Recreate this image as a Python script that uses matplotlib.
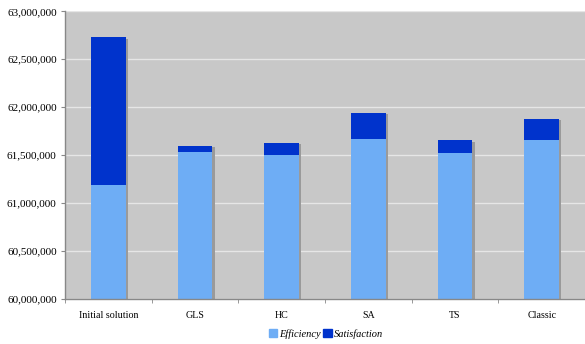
import numpy as np
import matplotlib
matplotlib.use('Agg')
import matplotlib.pyplot as plt
from matplotlib.ticker import FuncFormatter, FixedLocator

plt.rcParams['font.family'] = ['Liberation Serif', 'DejaVu Serif']

methods = ['Initial solution', 'GLS', 'HC', 'SA', 'TS', 'Classic']
efficiency = [61187500, 61534000, 61506000, 61673000, 61521000, 61663000]
satisfaction = [1541500, 66000, 122000, 267000, 135000, 215000]

light = '#6eadf5'
dark = '#0033cc'

fig = plt.figure(figsize=(5.85, 3.44), dpi=100)
ax = fig.add_axes([65 / 585, 45 / 344, 520 / 585, 287.7 / 344])
ax.set_facecolor('#c8c8c8')

x = np.arange(len(methods))
width = 0.4
base = 60000000
totals = np.array(efficiency) + np.array(satisfaction)

# drop shadow to the right of each stacked bar
ax.bar(x + 0.025, totals - base - 15000, width, bottom=base, color='#9a9a9a', zorder=1)
ax.bar(x, np.array(efficiency) - base, width, bottom=base, color=light, zorder=2)
ax.bar(x, satisfaction, width, bottom=efficiency, color=dark, zorder=2)

ax.set_xlim(-0.5, len(methods) - 0.5)
ax.set_ylim(60000000, 63000000)
ax.set_yticks(np.arange(60000000, 63000001, 500000))
ax.yaxis.set_major_formatter(FuncFormatter(lambda v, p: f'{int(v):,}'))
ax.yaxis.grid(True, color='#e6e6e6', linewidth=1.0, zorder=0)
ax.set_axisbelow(True)

ax.set_xticks(x)
ax.set_xticklabels(methods)
ax.xaxis.set_minor_locator(FixedLocator(np.arange(-0.5, len(methods), 1)))
ax.tick_params(axis='x', which='major', length=0, pad=9, labelsize=7.2)
ax.tick_params(axis='x', which='minor', length=3, color='#888888')
ax.tick_params(axis='y', length=3, color='#888888', labelsize=8, pad=3)

for side in ['top', 'right']:
    ax.spines[side].set_visible(False)
for side in ['left', 'bottom']:
    ax.spines[side].set_color('#888888')
    ax.spines[side].set_linewidth(1.0)

handles = [plt.Rectangle((0, 0), 1, 1, color=light), plt.Rectangle((0, 0), 1, 1, color=dark)]
fig.legend(handles, ['Efficiency', 'Satisfaction'], loc='center', bbox_to_anchor=(326 / 585, 10 / 344),
           ncol=2, frameon=False, prop={'style': 'italic', 'size': 7.5},
           handlelength=0.8, handleheight=0.8, handletextpad=0.2, columnspacing=0.2)

fig.savefig('out.png', dpi=100)
